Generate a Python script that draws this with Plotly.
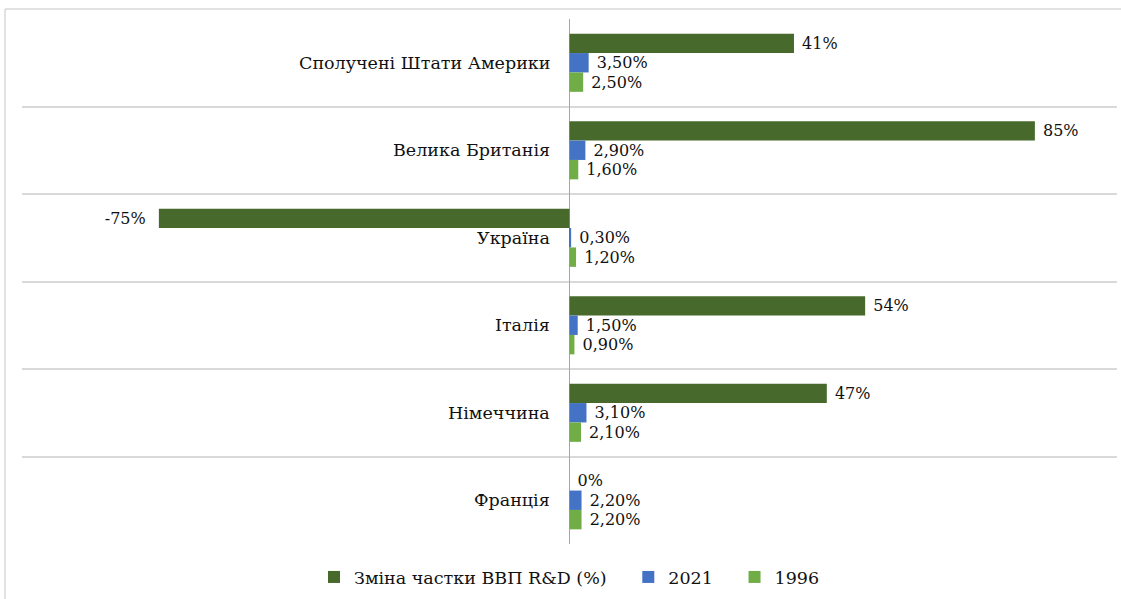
import plotly.graph_objects as go

# Countries (top to bottom) and R&D spending as a share of GDP
countries = ["Сполучені Штати Америки", "Велика Британія", "Україна",
             "Італія", "Німеччина", "Франція"]
change_pct = [41, 85, -75, 54, 47, 0]          # change of GDP share, %
share_2021 = [3.5, 2.9, 0.3, 1.5, 3.1, 2.2]    # % of GDP, 2021
share_1996 = [2.5, 1.6, 1.2, 0.9, 2.1, 2.2]    # % of GDP, 1996

series_names = ["Зміна частки ВВП R&D (%)", "2021", "1996"]
colors = ["#476a2c", "#4472c4", "#70ad47"]

FONT = "DejaVu Serif"
TEXT_COLOR = "#111111"
LABEL_SIZE = 16     # value labels
NAME_SIZE = 17.5    # country names and legend
NBSP = "\u00a0"


def fmt(v, decimals):
    s = f"{v:.{decimals}f}".replace(".", ",") + "%"
    return s + NBSP * 2 if v < 0 else NBSP + s


# extra room after the first two legend entries
legend_pad = [NBSP * 3, NBSP * 3, ""]

fig = go.Figure()
for name, pad, vals, col, dec in zip(series_names, legend_pad,
                                     [change_pct, share_2021, share_1996],
                                     colors, [0, 2, 2]):
    fig.add_trace(go.Bar(
        name=name + pad, y=countries, x=vals, orientation="h",
        marker=dict(color=col, line=dict(width=0)),
        text=[fmt(v, dec) for v in vals],
        textposition="outside", constraintext="none", cliponaxis=False,
        textfont=dict(family=FONT, size=LABEL_SIZE, color=TEXT_COLOR),
        hovertemplate=name + ": %{x}<extra></extra>",
    ))

# Country names sit just left of the zero line
for c in countries:
    fig.add_annotation(x=0, y=c, xref="x", yref="y", text=c, showarrow=False,
                       xanchor="right", yanchor="middle", xshift=-18,
                       font=dict(family=FONT, size=NAME_SIZE, color=TEXT_COLOR))

# Light frame around the chart area
frame = dict(type="line", xref="paper", yref="paper",
             line=dict(color="#d9d9d9", width=1.5))
fig.add_shape(**frame, x0=-0.0155, x1=-0.0155, y0=1.019, y1=-0.12)
fig.add_shape(**frame, x0=-0.0155, x1=1.01, y0=1.019, y1=1.019)

fig.update_layout(
    width=1121, height=599,
    margin=dict(l=22, r=4, t=19, b=53),
    paper_bgcolor="white", plot_bgcolor="white",
    barmode="group", bargap=0.335, bargroupgap=0,
    separators=",.",
    font=dict(family=FONT, size=LABEL_SIZE, color=TEXT_COLOR),
    showlegend=True,
    legend=dict(orientation="h", x=0.5, xanchor="center",
                y=-0.063, yanchor="middle",
                font=dict(family=FONT, size=NAME_SIZE, color=TEXT_COLOR),
                itemwidth=30, traceorder="normal"),
    xaxis=dict(range=[-100, 100], showgrid=False, showticklabels=False,
               ticks="", zeroline=True, zerolinecolor="#a6a6a6",
               zerolinewidth=1, fixedrange=True),
    yaxis=dict(type="category", categoryorder="array", categoryarray=countries,
               range=[5.5, -0.5], tickson="boundaries", showgrid=True,
               gridcolor="#d9d9d9", gridwidth=1.5, showticklabels=False,
               ticks="", zeroline=False, fixedrange=True),
)

fig.write_html("out.html")
